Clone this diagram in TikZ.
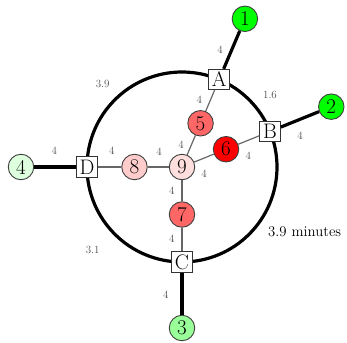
\documentclass[tikz,border=0pt]{standalone}
\begin{document}
\begin{tikzpicture}[x=1pt,y=1pt,
  stn/.style={circle,draw=black!75,line width=0.9pt,minimum size=25.5pt,inner sep=0pt,font=\fontsize{21}{23}\selectfont},
  hub/.style={rectangle,draw=black!80,fill=white,line width=0.9pt,minimum size=20.5pt,inner sep=0pt,font=\fontsize{21}{23}\selectfont},
  ring/.style={line width=3.2pt,black},
  spoke/.style={line width=3.2pt,black},
  inner/.style={line width=1.2pt,black!60},
  lbl/.style={text=black!70,font=\fontsize{11}{13}\selectfont,inner sep=0pt}
]
\useasboundingbox (-182,-175) rectangle (165,167);
\coordinate (O) at (0,0);
\draw[ring] (O) circle (95);
% hubs
\node[hub] (A) at (67:95) {A};
\node[hub] (B) at (22:95) {B};
\node[hub] (C) at (270:95) {C};
\node[hub] (D) at (180:95) {D};
% outer stations
\node[stn,fill=green] (n1) at (67:161) {1};
\node[stn,fill=green] (n2) at (22:161) {2};
\node[stn,fill=green!40] (n3) at (270:161) {3};
\node[stn,fill=green!13] (n4) at (180:161) {4};
% inner stations
\node[stn,fill=red!60] (n5) at (67:47.5) {5};
\node[stn,fill=red] (n6) at (22:47.5) {6};
\node[stn,fill=red!60] (n7) at (270:47.5) {7};
\node[stn,fill=red!20] (n8) at (180:47.5) {8};
\node[stn,fill=red!13] (n9) at (0,0) {9};
% connectors
\draw[spoke] (A) -- (n1);
\draw[spoke] (B) -- (n2);
\draw[spoke] (C) -- (n3);
\draw[spoke] (D) -- (n4);
\draw[inner] (A) -- (n5);
\draw[inner] (n5) -- (n9);
\draw[inner] (B) -- (n6);
\draw[inner] (n6) -- (n9);
\draw[inner] (C) -- (n7);
\draw[inner] (n7) -- (n9);
\draw[inner] (D) -- (n8);
\draw[inner] (n8) -- (n9);
% labels
\node[lbl] (l1) at (38,117) {4};
\node[lbl] (l2) at (118,31) {4};
\node[lbl] (l3) at (-16.3,-128) {4};
\node[lbl] (l4) at (-127.7,16) {4};
\node[lbl] (l5) at (17.3,67) {4};
\node[lbl] (l6) at (-1,22) {4};
\node[lbl] (l7) at (66.3,11.3) {4};
\node[lbl] (l8) at (22,-6.3) {4};
\node[lbl] (l9) at (-10.3,-24) {4};
\node[lbl] (l10) at (-10.3,-71.7) {4};
\node[lbl] (l11) at (-70.3,16) {4};
\node[lbl] (l12) at (-23,15.3) {4};
\node[lbl] (r1) at (-79.3,83.3) {3.9};
\node[lbl] (r2) at (88,72) {1.6};
\node[lbl] (r3) at (-89.3,-83.3) {3.1};
\node[anchor=west,inner sep=0pt,font=\fontsize{14.8}{16}\selectfont] (r4) at (86,-65) {3.9 minutes};
\end{tikzpicture}
\end{document}
